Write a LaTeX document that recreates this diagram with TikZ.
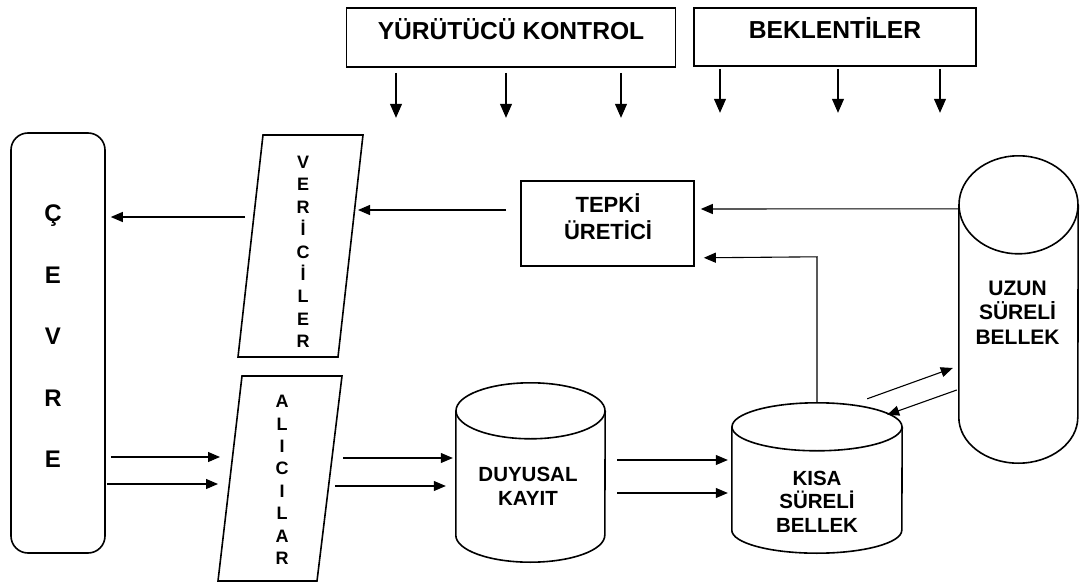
\documentclass[tikz,border=0pt]{standalone}
\usepackage{fontspec}
\setmainfont{Liberation Sans}
\usetikzlibrary{arrows.meta,calc}
\begin{document}
\begin{tikzpicture}[x=1pt,y=1pt,
  shapeline/.style={draw=black, line width=1.6pt},
  conn/.style={draw=black, line width=1.1pt, -{Triangle[length=12pt,width=10pt]}},
  downconn/.style={draw=black, line width=1.1pt, -{Triangle[length=14pt,width=12pt]}},
  headbox/.style={shapeline, rectangle, inner sep=0pt,
    font=\bfseries\fontsize{24.6}{28}\selectfont, text height=18pt, text depth=14pt},
  plainbox/.style={shapeline, rectangle, inner sep=0pt},
  body/.style={rectangle, inner sep=0pt},
  label24/.style={inner sep=0pt, align=center, font=\bfseries\fontsize{24}{61.5}\selectfont},
  letters/.style={inner sep=0pt, align=center, font=\bfseries\fontsize{18}{22.4}\selectfont},
  tepkitext/.style={inner sep=0pt, align=center, font=\bfseries\fontsize{22}{27}\selectfont},
  cyltext/.style={inner sep=0pt, align=center, font=\bfseries\fontsize{20.5}{23.5}\selectfont},
]
\useasboundingbox (0,0) rectangle (1080,-586);

% control boxes on top
\node[headbox, minimum width=329pt, minimum height=59pt] (yur) at (511,-37.5) {YÜRÜTÜCÜ KONTROL};
\node[headbox, minimum width=282pt, minimum height=58pt] (bek) at (835,-37) {BEKLENTİLER};

\draw[downconn] ($(yur.south)+(-115,-5)$) -- ++(0,-45);
\draw[downconn] ($(yur.south)+(-5,-5)$) -- ++(0,-45);
\draw[downconn] ($(yur.south)+(110,-5)$) -- ++(0,-45);
\draw[downconn] ($(bek.south)+(-115,-2)$) -- ++(0,-44);
\draw[downconn] ($(bek.south)+(3,-2)$) -- ++(0,-44);
\draw[downconn] ($(bek.south)+(105,-2)$) -- ++(0,-44);

% environment
\node[shapeline, rounded corners=17pt, minimum width=94pt, minimum height=420pt, inner sep=0pt] (cevre) at (58,-343) {};
\node[label24] (cevreyazi) at (53,-336.5) {Ç\\E\\V\\R\\E};

% effectors and receptors
\draw[shapeline] (238,-357) -- (338,-357) -- (363,-135) -- (263,-135) -- cycle;
\node[letters] (verici) at (303,-252) {V\\E\\R\\İ\\C\\İ\\L\\E\\R};
\draw[shapeline] (218,-581) -- (317,-581) -- (342,-376) -- (242,-376) -- cycle;
\node[letters] (alici) at (282,-480) {A\\L\\I\\C\\I\\L\\A\\R};

\coordinate (vIn) at (358,-210);
\coordinate (vOut) at (245,-217);
\coordinate (aIn1) at (220,-457);
\coordinate (aIn2) at (218,-484);
\coordinate (aOut1) at (343,-458);
\coordinate (aOut2) at (335,-486);

% response generator
\node[plainbox, minimum width=173pt, minimum height=85pt] (tepki) at (607.5,-223.5) {};
\node[tepkitext] (tepkiyazi) at (608,-216.6) {TEPKİ\\ÜRETİCİ};

% sensory register
\node[body, minimum width=149pt, minimum height=124pt] (duyusal) at (530.5,-473) {};
\draw[shapeline] (duyusal.north west) -- (duyusal.south west)
  arc[start angle=180, end angle=360, x radius=74.5, y radius=27] -- (duyusal.north east);
\draw[shapeline] (duyusal.north) ellipse[x radius=74.5, y radius=28];
\node[cyltext] (duyusalyazi) at (528,-486.5) {DUYUSAL\\KAYIT};

% short term memory
\node[body, minimum width=170pt, minimum height=103pt] (kisa) at (817,-478.5) {};
\draw[shapeline] (kisa.north west) -- (kisa.south west)
  arc[start angle=180, end angle=360, x radius=85, y radius=23] -- (kisa.north east);
\draw[shapeline] (kisa.north) ellipse[x radius=85, y radius=24];
\node[cyltext] (kisayazi) at (817,-501.5) {KISA\\SÜRELİ\\BELLEK};

% long term memory
\node[body, minimum width=119pt, minimum height=212pt] (uzun) at (1018.5,-311) {};
\draw[shapeline] (uzun.north west) -- (uzun.south west)
  arc[start angle=180, end angle=360, x radius=59.5, y radius=46] -- (uzun.north east);
\draw[shapeline] (uzun.north) ellipse[x radius=59.5, y radius=49];
\node[cyltext, font=\bfseries\fontsize{21}{24.5}\selectfont] (uzunyazi) at (1017.5,-312.5) {UZUN\\SÜRELİ\\BELLEK};

% information flow
\draw[conn] ($(tepki.west)+(-14,13.5)$) -- (vIn);
\draw[conn] (vOut) -- ($(cevre.east)+(5,126)$);
\draw[conn] ($(cevre.east)+(5,-114)$) -- (aIn1);
\draw[conn] ($(cevre.east)+(1,-141)$) -- (aIn2);
\draw[conn, shorten >=3pt] (aOut1) -- (aOut1 -| duyusal.west);
\draw[conn, shorten >=10pt] (aOut2) -- (aOut2 -| duyusal.west);
\draw[conn, shorten >=4pt] ($(duyusal.east)+(12,13)$) coordinate (d1) -- (d1 -| kisa.west);
\draw[conn, shorten >=4pt] ($(duyusal.east)+(12,-20)$) coordinate (d2) -- (d2 -| kisa.west);
\draw[conn] ($(kisa.north)+(0,24)$) -- ++(0,146) -- ($(tepki.south east)+(9,9)$);
\draw[conn] ($(uzun.north west)+(0,-4)$) -- ($(tepki.east)+(6,14.5)$);
\draw[conn] ($(kisa.north east)+(-35,28)$) -- ($(uzun.west)+(-6,-57)$);
\draw[conn] ($(uzun.west)+(-2,-79)$) -- ($(kisa.north east)+(-15,12)$);
\end{tikzpicture}
\end{document}
